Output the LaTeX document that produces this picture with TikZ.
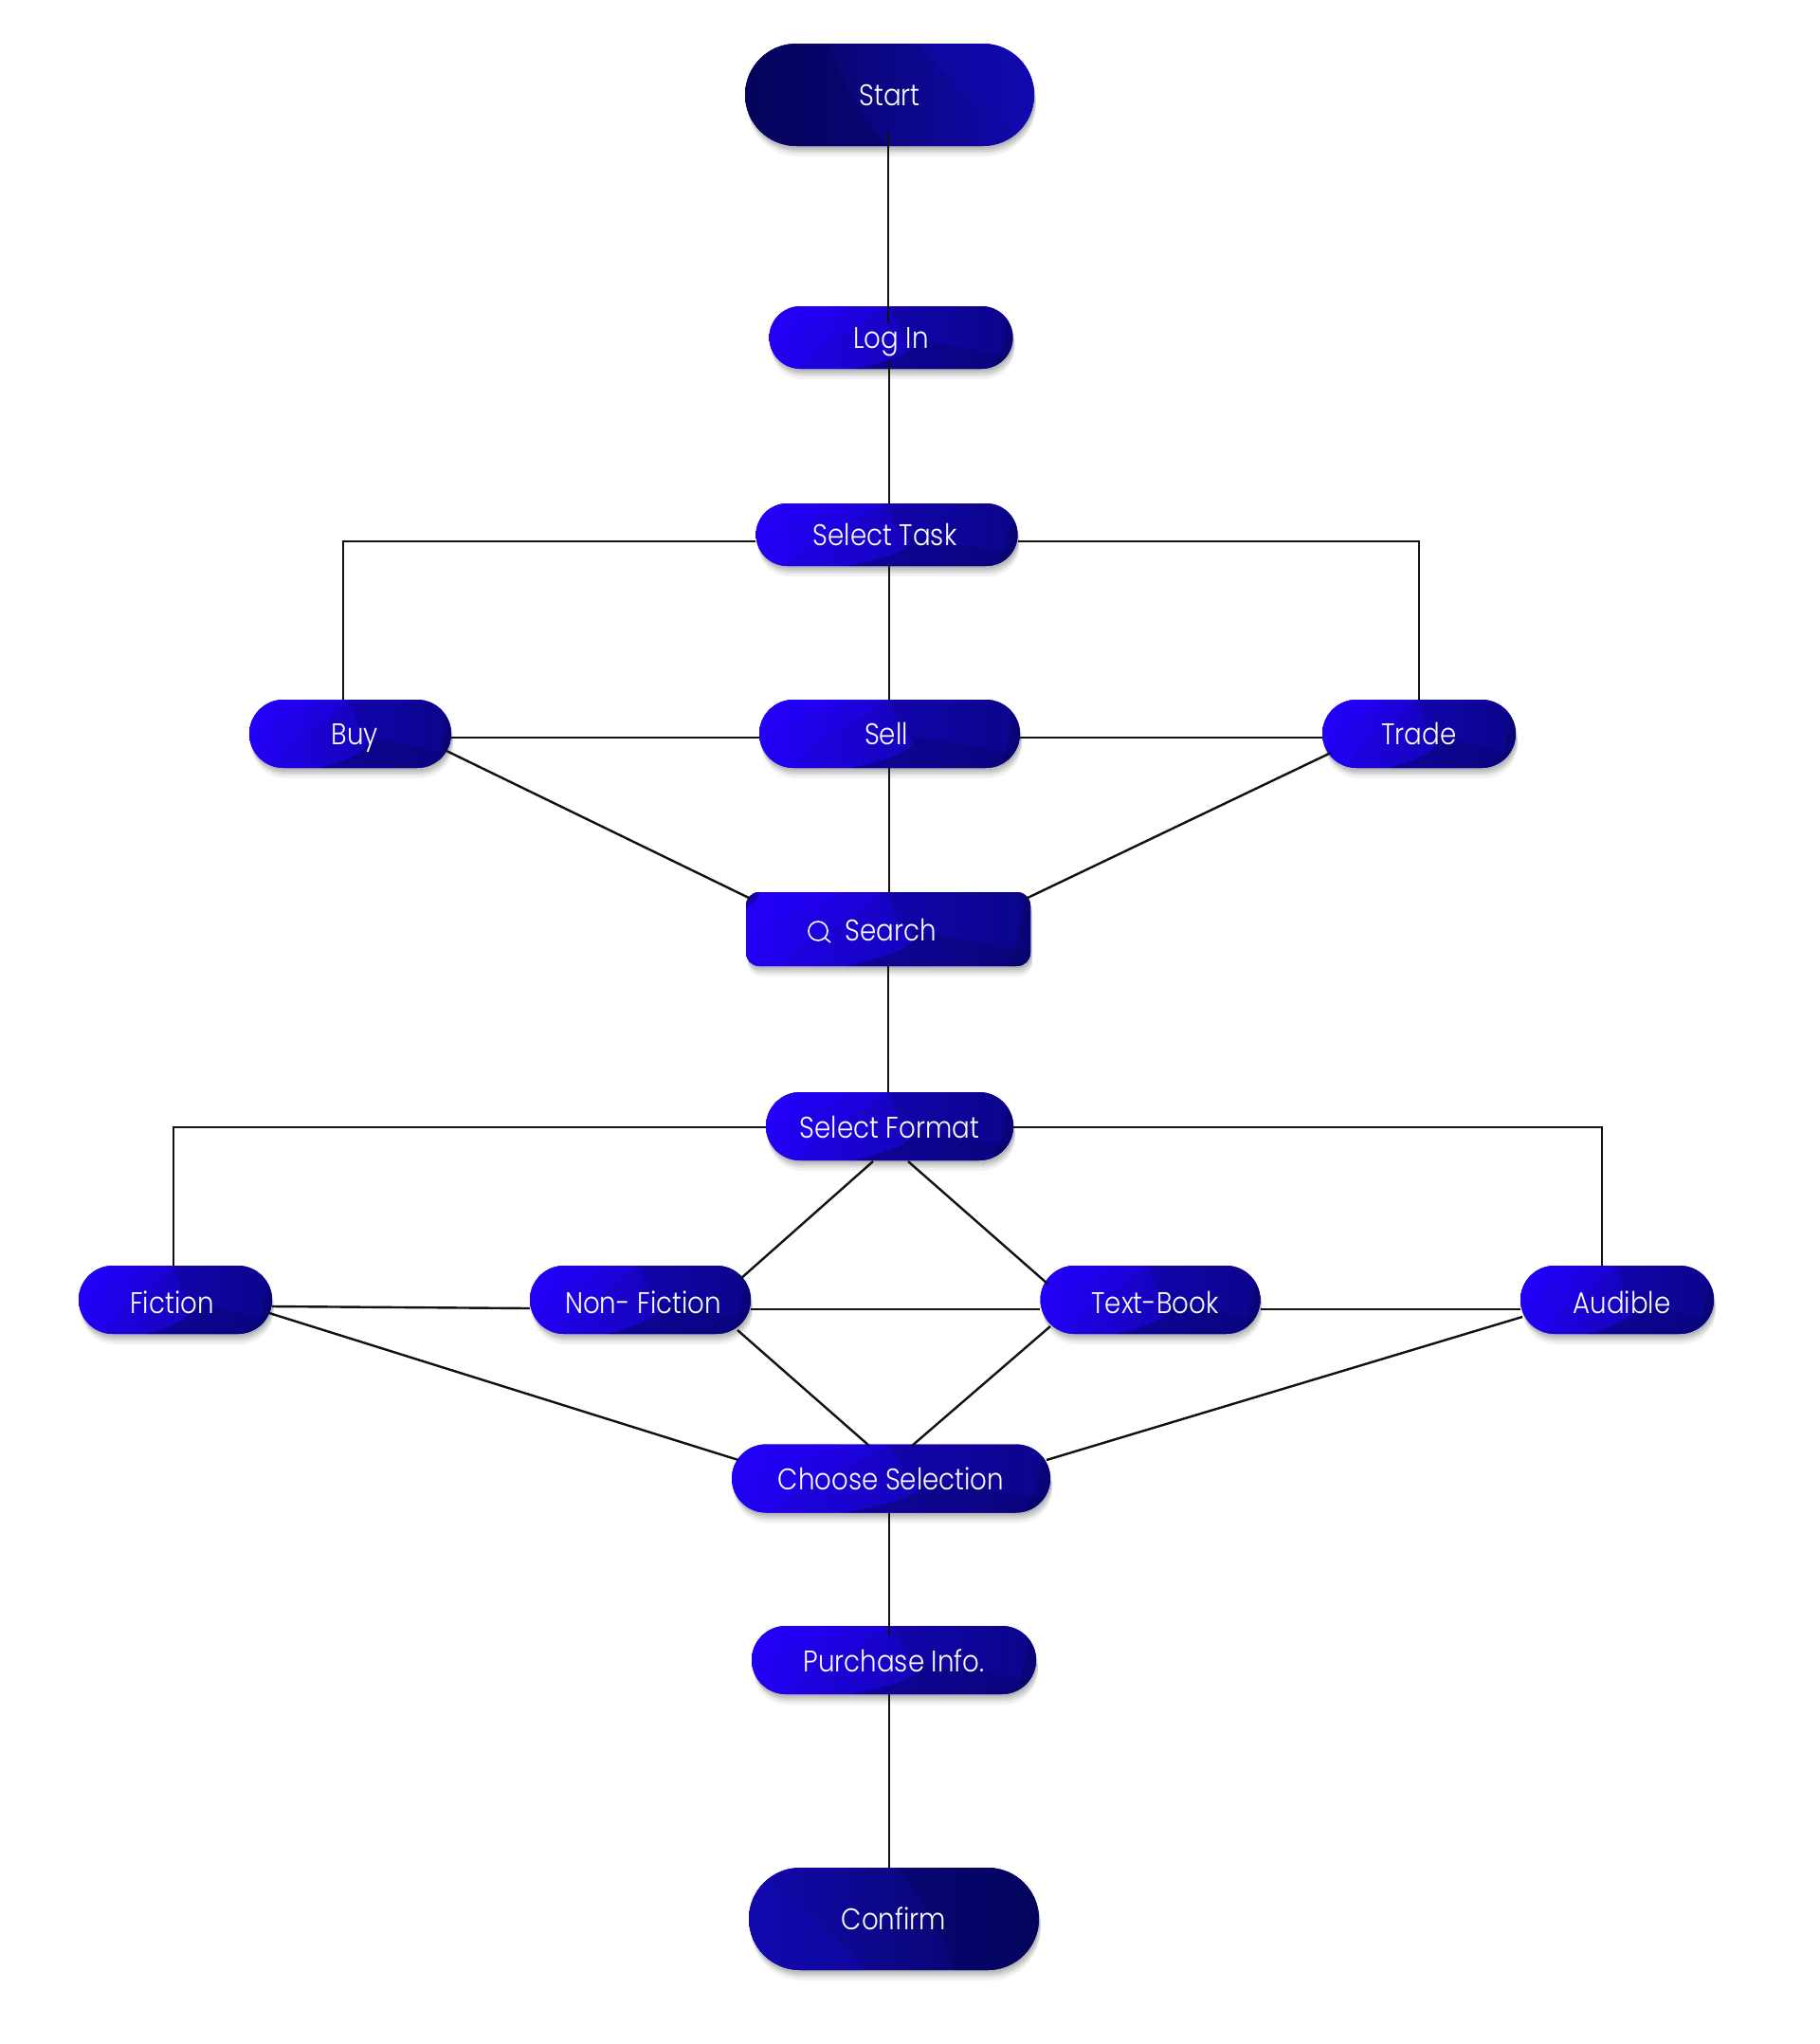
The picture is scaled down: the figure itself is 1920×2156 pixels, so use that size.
\documentclass[tikz,border=0pt]{standalone}
\usepackage{fontspec}
\setmainfont{Poppins}[UprightFont=* Light,FakeStretch=.88]
\usetikzlibrary{shadows}
\definecolor{brightblue}{HTML}{2400FF}
\definecolor{midblue}{HTML}{0D0696}
\definecolor{navyblue}{HTML}{05045C}
\definecolor{endblue}{HTML}{1209AE}
\definecolor{wireblack}{HTML}{111111}

% the waves, in a unit square
\newcommand{\stepwaves}{
  \fill[brightblue,opacity=.30] (0,0) -- (.12,0)
    .. controls (.18,.40) and (.36,.62) .. (.49,1) -- (0,1) -- cycle;
  \fill[brightblue,opacity=.35] (0,.44) -- (.03,.44)
    .. controls (.10,.72) and (.25,.75) .. (.34,1) -- (0,1) -- cycle;
  \fill[navyblue,opacity=.22] (.35,0)
    .. controls (.50,.12) and (.64,.30) .. (.57,.48)
    .. controls (.52,.62) and (.52,.85) .. (.49,1)
    -- (1,1) -- (1,0) -- cycle;
  \fill[navyblue,opacity=.30] (.35,0)
    .. controls (.50,.12) and (.64,.30) .. (.57,.48)
    .. controls (.70,.40) and (.85,.30) .. (1,.18) -- (1,0) -- cycle;
  \fill[navyblue,opacity=.40] (.97,1)
    .. controls (.98,.60) and (.95,.25) .. (.92,0) -- (1,0) -- (1,1) -- cycle;
  \fill[navyblue,opacity=.50] (0,.78) -- (0,1) -- (.05,1)
    .. controls (.04,.90) and (.02,.84) .. (0,.78) -- cycle;
}
\newcommand{\capwaves}{
  \fill[navyblue,opacity=.40] (0,0) -- (.49,0)
    .. controls (.42,.25) and (.34,.55) .. (.29,1) -- (0,1) -- cycle;
  \fill[endblue,opacity=.55] (1,1) -- (.60,1)
    .. controls (.68,.72) and (.80,.40) .. (.95,.12) -- (1,.10) -- cycle;
}
% backing of a node: [turn]{fill}{waves}{x}{y}{width}{height}
\newcommand{\flowbox}[7][scale=1]{
  \shade[softshadow,#2] ({#4-#6/2},{#5-#7/2}) rectangle ({#4+#6/2},{#5+#7/2});
  \begin{scope}
    \clip[#2] ({#4-#6/2},{#5-#7/2}) rectangle ({#4+#6/2},{#5+#7/2});
    \begin{scope}[shift={(#4,#5)},x=#6pt,y=#7pt,#1,shift={(-.5,-.5)}]
      #3
    \end{scope}
  \end{scope}
}

\tikzstyle{softshadow} = [
  general shadow={shadow xshift=1pt,shadow yshift=-2pt,fill=black,opacity=.07},
  general shadow={shadow xshift=1pt,shadow yshift=-4pt,fill=black,opacity=.07},
  general shadow={shadow xshift=2pt,shadow yshift=-6pt,fill=black,opacity=.07},
  general shadow={shadow xshift=2pt,shadow yshift=-8pt,fill=black,opacity=.06},
  general shadow={shadow xshift=2pt,shadow yshift=-11pt,fill=black,opacity=.05},
]
\tikzstyle{stepfill} = [
  rounded corners=36pt,
  left color=brightblue!85!midblue,
  right color=midblue,
]
\tikzstyle{thinfill} = [
  stepfill,
  rounded corners=33pt,
]
\tikzstyle{searchfill} = [
  stepfill,
  rounded corners=14pt,
]
\tikzstyle{startfill} = [
  rounded corners=54pt,
  left color=navyblue,
  right color=endblue,
]
\tikzstyle{stopfill} = [
  rounded corners=54pt,
  left color=endblue,
  right color=navyblue,
]
\tikzstyle{steplabel} = [
  rectangle,
  minimum height=72pt,
  inner sep=0pt,
  text=white,
  text height=22pt,
  text depth=0pt,
  font=\fontsize{31.5}{36}\selectfont,
]
\tikzstyle{lowtext} = [
  text height=24pt,
]
\tikzstyle{lowertext} = [
  text height=28pt,
]
\tikzstyle{wire} = [
  draw=wireblack,
  line width=2.4pt,
]

\begin{document}
\begin{tikzpicture}[
    x=1pt,
    y=1pt,
  ]
  \useasboundingbox (0,0) rectangle (1920,-2156);

  \flowbox{startfill}{\capwaves}{938.5}{-100}{305}{108}
  \node[steplabel,minimum width=305pt,minimum height=108pt] (start) at (938.5,-100) {Start};
  \flowbox{thinfill}{\stepwaves}{940}{-356}{257}{66}
  \node[steplabel,minimum width=257pt,minimum height=66pt] (login) at (940,-356) {Log In};
  \flowbox{thinfill}{\stepwaves}{935.5}{-564}{276}{66}
  \node[steplabel,minimum width=276pt,minimum height=66pt] (selecttask) at (935.5,-564) {Select Task\hspace*{4pt}};

  \flowbox{stepfill}{\stepwaves}{369.5}{-774}{213}{72}
  \node[steplabel,minimum width=213pt] (buy) at (369.5,-774) {\hspace*{10pt}Buy};
  \flowbox{stepfill}{\stepwaves}{938.5}{-774}{275}{72}
  \node[steplabel,minimum width=275pt] (sell) at (938.5,-774) {Sell\hspace*{7pt}};
  \flowbox{stepfill}{\stepwaves}{1497}{-774}{204}{72}
  \node[steplabel,minimum width=204pt] (trade) at (1497,-774) {Trade};

  \flowbox{searchfill}{\stepwaves}{937}{-980}{300}{78}
  \node[steplabel,lowtext,minimum width=300pt,minimum height=78pt] (search) at (937,-980) {\hspace*{6pt}Search};

  \flowbox{stepfill}{\stepwaves}{938.5}{-1188}{261}{72}
  \node[steplabel,lowtext,minimum width=261pt] (selectformat) at (938.5,-1188) {Select Format};
  \flowbox{stepfill}{\stepwaves}{185}{-1371}{204}{72}
  \node[steplabel,lowertext,minimum width=204pt] (fiction) at (185,-1371) {Fiction\hspace*{7pt}};
  \flowbox{stepfill}{\stepwaves}{675.5}{-1371}{233}{72}
  \node[steplabel,lowertext,minimum width=233pt] (nonfiction) at (675.5,-1371) {\hspace*{6pt}Non- Fiction};
  \flowbox{stepfill}{\stepwaves}{1213.5}{-1371}{232}{72}
  \node[steplabel,lowertext,minimum width=232pt] (textbook) at (1213.5,-1371) {\hspace*{10pt}Text-Book};
  \flowbox{stepfill}{\stepwaves}{1706}{-1371}{204}{72}
  \node[steplabel,lowertext,minimum width=204pt] (audible) at (1706,-1371) {\hspace*{10pt}Audible};

  \flowbox{stepfill}{\stepwaves}{940}{-1559.5}{336}{72}
  \node[steplabel,lowtext,minimum width=336pt] (choose) at (940,-1559.5) {Choose Selection};
  \flowbox{stepfill}{\stepwaves}{943}{-1751}{300}{72}
  \node[steplabel,lowtext,minimum width=300pt] (purchase) at (943,-1751) {Purchase Info.};
  \flowbox[xscale=-1,yscale=-1]{stopfill}{\capwaves}{943}{-2024}{306}{108}
  \node[steplabel,minimum width=306pt,minimum height=108pt] (confirm) at (943,-2024) {Confirm};

  % search glass
  \draw[white,line width=1.6pt] ([shift={(-74,-2)}]search.center) circle (10pt);
  \draw[white,line width=1.6pt] ([shift={(-67,-9)}]search.center) -- ([shift={(-61,-14)}]search.center);

  % main column
  \draw[wire] ([shift={(-1.5,-40)}]start.center) -- ([shift={(-3,15)}]login.center);
  \draw[wire] ([shift={(-2,-24)}]login.center) -- ([xshift=2.5pt]selecttask.north);
  \draw[wire] ([xshift=2.5pt]selecttask.south) -- ([xshift=-.5pt]sell.north);
  \draw[wire] ([xshift=-.5pt]sell.south) -- ([xshift=1pt]search.north);
  \draw[wire] (search.south) -- ([xshift=-1.5pt]selectformat.north);
  \draw[wire] ([xshift=-2pt]choose.south) -- ([shift={(-5,26)}]purchase.center);
  \draw[wire] ([xshift=-5pt]purchase.south) -- ([xshift=-5pt]confirm.north);

  % task row
  \draw[wire] ([yshift=-7pt]selecttask.west) -| ([xshift=-7.5pt]buy.north);
  \draw[wire] ([yshift=-7pt]selecttask.east) -| (trade.north);
  \draw[wire] ([yshift=-4pt]buy.east) -- ([yshift=-4pt]sell.west);
  \draw[wire] ([yshift=-4pt]sell.east) -- ([yshift=-4pt]trade.west);
  \draw[wire] ([shift={(101.5,-18)}]buy.center) -- ([shift={(-145,32)}]search.center);
  \draw[wire] ([shift={(-93,-20)}]trade.center) -- ([shift={(145,32)}]search.center);

  % format row
  \draw[wire] ([yshift=-1pt]selectformat.west) -| ([xshift=-2pt]fiction.north);
  \draw[wire] ([yshift=-1pt]selectformat.east) -| ([xshift=-16pt]audible.north);
  \draw[wire] ([shift={(-17.5,-37)}]selectformat.center) -- ([shift={(105.5,22)}]nonfiction.center);
  \draw[wire] ([shift={(19.5,-37)}]selectformat.center) -- ([shift={(-108.5,17)}]textbook.center);
  \draw[wire] ([yshift=-7pt]fiction.east) -- ([yshift=-9pt]nonfiction.west);
  \draw[wire] ([yshift=-10pt]nonfiction.east) -- ([yshift=-10pt]textbook.west);
  \draw[wire] ([yshift=-10pt]textbook.east) -- ([yshift=-10pt]audible.west);
  \draw[wire] ([shift={(99,-14)}]fiction.center) -- ([shift={(-161,19.5)}]choose.center);
  \draw[wire] ([shift={(102.5,-32)}]nonfiction.center) -- ([shift={(-23,34.5)}]choose.center);
  \draw[wire] ([shift={(-105.5,-28)}]textbook.center) -- ([shift={(22,34.5)}]choose.center);
  \draw[wire] ([shift={(-100,-18)}]audible.center) -- ([shift={(164,19.5)}]choose.center);
\end{tikzpicture}
\end{document}
